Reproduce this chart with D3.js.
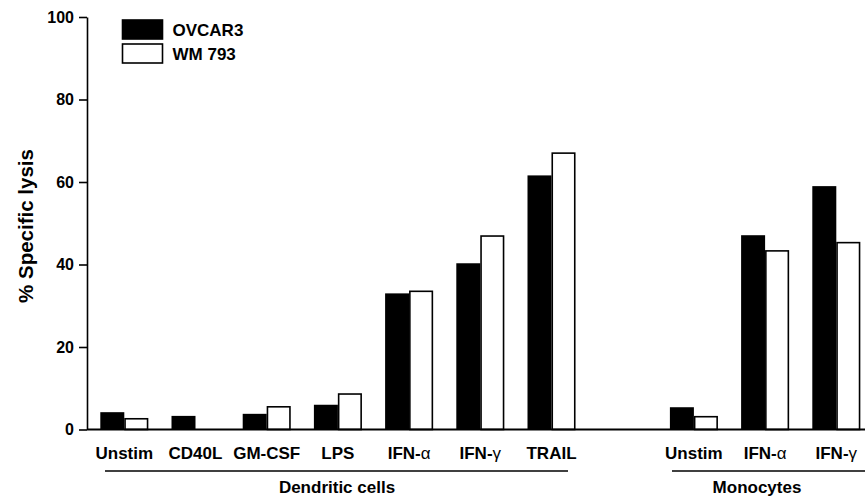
<!DOCTYPE html>
<html>
<head>
<meta charset="utf-8">
<script src="https://cdn.jsdelivr.net/npm/d3@7"></script>
<style>
  html, body { margin: 0; padding: 0; background: #fff; }
  svg { display: block; font-family: "Liberation Sans", Arial, Helvetica, sans-serif; font-weight: bold; }
</style>
</head>
<body>
<svg id="chart" width="865" height="497"></svg>
<script>
// Cytotoxicity of stimulated dendritic cells and monocytes against two tumour lines
const dcCategories   = ["Unstim", "CD40L", "GM-CSF", "LPS", "IFN-α", "IFN-γ", "TRAIL"];
const monoCategories = ["Unstim", "IFN-α", "IFN-γ"];
const seriesNames    = ["OVCAR3", "WM 793"];

const ovcar3DC   = [4.2, 3.3, 3.8, 6.0, 33.0, 40.3, 61.6];
const wm793DC    = [2.6, null, 5.5, 8.6, 33.5, 46.9, 67.0];
const ovcar3Mono = [5.4, 47.1, 59.0];
const wm793Mono  = [3.1, 43.3, 45.3];

const yTicks = [0, 20, 40, 60, 80, 100];
const groupLabels = ["Dendritic cells", "Monocytes"];

// one slot per category, with an empty slot separating the two cell types
const slots = [
  ...dcCategories.map((c, i) => ({ key: "dc" + i, label: c, v: [ovcar3DC[i], wm793DC[i]] })),
  { key: "gap", label: null, v: [null, null] },
  ...monoCategories.map((c, i) => ({ key: "mono" + i, label: c, v: [ovcar3Mono[i], wm793Mono[i]] }))
];

const svg = d3.select("#chart");
const axisX = 87;

const x = d3.scaleBand()
  .domain(slots.map(d => d.key))
  .range([88.7, 88.7 + 71.2 * slots.length])
  .paddingInner(0).paddingOuter(0);

const y = d3.scaleLinear().domain([0, 100]).range([429.5, 17]);

const barW = 24;
const fills = ["#000", "#fff"];

// bars
const bars = [];
slots.forEach(s => {
  s.v.forEach((v, j) => {
    if (v == null) return;
    const cx = x(s.key) + x.bandwidth() / 2;
    bars.push({ x0: j === 0 ? cx - barW : cx, v, j });
  });
});

svg.append("g").selectAll("rect").data(bars).join("rect")
  .attr("x", d => d.x0 + (d.j === 1 ? 0.75 : 0))
  .attr("y", d => y(d.v))
  .attr("width", d => barW - (d.j === 1 ? 1.5 : 0))
  .attr("height", d => y(0) - y(d.v))
  .attr("fill", d => fills[d.j])
  .attr("stroke", d => d.j === 1 ? "#000" : "none")
  .attr("stroke-width", 1.6);

// y axis
const yAxis = svg.append("g")
  .attr("transform", `translate(${axisX},0)`)
  .call(d3.axisLeft(y).tickValues(yTicks).tickSize(8).tickSizeOuter(0).tickPadding(5));
yAxis.select(".domain").attr("stroke", "#000").attr("stroke-width", 1.6);
yAxis.selectAll(".tick line").attr("stroke", "#000").attr("stroke-width", 1.6);
yAxis.selectAll(".tick text")
  .attr("font-size", 16).attr("font-weight", "bold").attr("fill", "#000")
  .attr("font-family", "Liberation Sans, Arial, sans-serif");

// baseline
svg.append("line")
  .attr("x1", axisX).attr("x2", 865)
  .attr("y1", y(0)).attr("y2", y(0))
  .attr("stroke", "#000").attr("stroke-width", 2);

// category labels, Greek letters in a lighter weight
const labels = svg.append("g").attr("font-size", 17).attr("fill", "#000");
slots.filter(s => s.label).forEach(s => {
  const t = labels.append("text")
    .attr("x", x(s.key) + x.bandwidth() / 2)
    .attr("y", 459)
    .attr("text-anchor", "middle");
  const m = s.label.match(/^(.*-)([αγ])$/);
  if (m) {
    t.append("tspan").text(m[1]);
    t.append("tspan").attr("font-weight", "normal").text(m[2]);
  } else {
    t.text(s.label);
  }
});

// group brackets and names
const groups = [
  { name: groupLabels[0], x1: 105, x2: 568, tx: 337 },
  { name: groupLabels[1], x1: 672, x2: 870, tx: 757 }
];
groups.forEach(g => {
  svg.append("line")
    .attr("x1", g.x1).attr("x2", g.x2).attr("y1", 471).attr("y2", 471)
    .attr("stroke", "#000").attr("stroke-width", 1.6);
  svg.append("text")
    .attr("x", g.tx).attr("y", 493)
    .attr("text-anchor", "middle").attr("font-size", 17).attr("fill", "#000")
    .text(g.name);
});

// y axis title
svg.append("text")
  .attr("transform", "translate(33,226) rotate(-90)")
  .attr("text-anchor", "middle")
  .attr("font-size", 20.5).attr("fill", "#000")
  .text("% Specific lysis");

// legend
const legend = svg.append("g");
seriesNames.forEach((name, i) => {
  legend.append("rect")
    .attr("x", 122.5).attr("y", 20 + i * 24)
    .attr("width", 40).attr("height", 19)
    .attr("fill", fills[i]).attr("stroke", "#000").attr("stroke-width", 1.6);
  legend.append("text")
    .attr("x", 172.5).attr("y", 35.5 + i * 24)
    .attr("font-size", 17).attr("fill", "#000")
    .text(name);
});
</script>
</body>
</html>
